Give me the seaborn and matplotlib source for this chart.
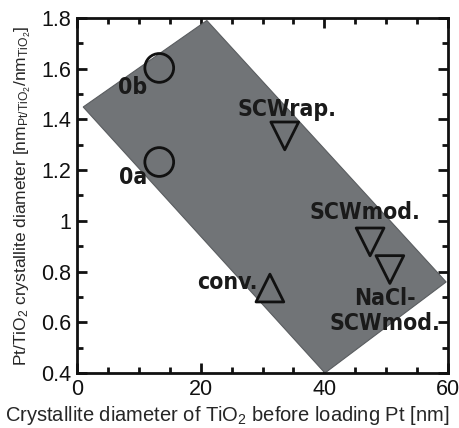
import pandas as pd
import matplotlib.pyplot as plt
import seaborn as sns
from matplotlib.ticker import MultipleLocator

# Points
labels = ['0b', '0a', 'SCWrap.', 'SCWmod.', 'NaCl-SCWmod.', 'conv.']
tio2_diam = [13.3, 13.3, 33.6, 47.4, 50.6, 31.2]
ratio = [1.603, 1.232, 1.335, 0.917, 0.808, 0.735]
shapes = ['o', 'o', 'v', 'v', 'v', '^']

# Gray band (corners)
band_x = [1.0, 21.0, 59.7, 40.1]
band_y = [1.449, 1.79, 0.759, 0.40]

# Annotation text positions
note_text = ['0b', '0a', 'SCWrap.', 'SCWmod.', 'NaCl-\nSCWmod.', 'conv.']
note_x = [11.4, 11.4, 34.0, 46.6, 49.8, 29.2]
note_y = [1.524, 1.169, 1.441, 1.031, 0.645, 0.755]
note_ha = ['right', 'right', 'center', 'center', 'center', 'right']

df = pd.DataFrame({'label': labels, 'x': tio2_diam, 'y': ratio, 'shape': shapes})

sns.set_style('ticks')
plt.rcParams['font.family'] = ['Liberation Sans', 'DejaVu Sans']
plt.rcParams['mathtext.fontset'] = 'custom'
plt.rcParams['mathtext.rm'] = 'Liberation Sans'
plt.rcParams['mathtext.it'] = 'Liberation Sans'

fig = plt.figure(figsize=(4.59, 4.28), dpi=100)
ax = fig.add_axes([0.1678, 0.1285, 0.8082, 0.8295])

ax.fill(band_x, band_y, facecolor='#717477', edgecolor='#5a5d60', lw=0.8, zorder=1)

for m in ['o', 'v', '^']:
    sub = df[df['shape'] == m]
    sns.scatterplot(data=sub, x='x', y='y', marker=m, s=430 if m == 'o' else 400,
                    facecolors='none', edgecolors='#111111', linewidths=2.0,
                    ax=ax, zorder=3, legend=False)

for t, x, y, ha in zip(note_text, note_x, note_y, note_ha):
    ax.text(x, y, t, ha=ha, va='center', fontsize=16.5, fontweight='bold',
            family='DejaVu Sans', fontstretch='condensed', color='#1a1a1a',
            linespacing=1.15, zorder=4)

ax.set_xlim(0, 60)
ax.set_ylim(0.4, 1.8)
ax.xaxis.set_major_locator(MultipleLocator(20))
ax.xaxis.set_minor_locator(MultipleLocator(5))
ax.yaxis.set_major_locator(MultipleLocator(0.2))
ax.yaxis.set_minor_locator(MultipleLocator(0.1))
ax.set_yticks([0.4, 0.6, 0.8, 1.0, 1.2, 1.4, 1.6, 1.8])
ax.set_yticklabels(['0.4', '0.6', '0.8', '1', '1.2', '1.4', '1.6', '1.8'])
ax.tick_params(which='both', direction='in', top=True, right=True, width=2, colors='#111111')
ax.tick_params(which='major', length=7, labelsize=15.5, pad=4)
ax.tick_params(which='minor', length=4)
for s in ax.spines.values():
    s.set_linewidth(2)
    s.set_color('#111111')

ax.set_xlabel('Crystallite diameter of TiO$_2$ before loading Pt [nm]', fontsize=14.5)
ax.set_ylabel('Pt/TiO$_2$ crystallite diameter [nm$_{\\mathregular{Pt/TiO_2}}$/nm$_{\\mathregular{TiO_2}}$]',
              fontsize=12.5)
ax.xaxis.set_label_coords(0.405, -0.088)
ax.yaxis.set_label_coords(-0.118, 0.499)

plt.savefig('out.png', dpi=100)
plt.close()
